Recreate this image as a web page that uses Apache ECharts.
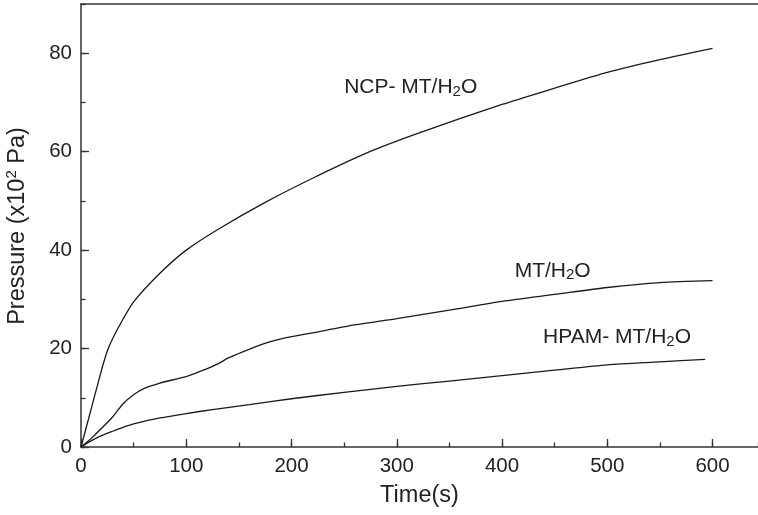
<!DOCTYPE html>
<html><head><meta charset="utf-8">
<script src="https://cdn.jsdelivr.net/npm/echarts@6/dist/echarts.min.js"></script>
<style>html,body{margin:0;padding:0;background:#fff}#c{width:758px;height:515px}</style>
</head><body><div id="c"></div>
<script>
// ---- data ----
const ncpTime = [0,10,20,25,30,40,50,75,100,130,175,220,270,320,400,450,500,550,600];
const ncpPressure = [0,8,16,19.5,22,26,29.5,35.3,40,44.2,49.7,54.6,59.6,63.7,69.6,72.9,76.1,78.7,81];
const mtTime = [0,10,20,30,40,50,60,75,100,115,130,140,150,165,180,195,220,260,300,350,400,450,500,550,600];
const mtPressure = [0,1.8,3.9,6.1,8.8,10.6,11.9,13.0,14.3,15.5,16.9,18.1,19.0,20.3,21.4,22.2,23.2,24.8,26.1,27.8,29.6,31.0,32.4,33.4,33.8];
const hpamTime = [0,10,20,30,40,50,75,100,125,160,200,250,300,350,400,450,500,550,593];
const hpamPressure = [0,1.3,2.35,3.2,4.0,4.7,5.9,6.8,7.6,8.6,9.8,11.1,12.3,13.4,14.5,15.6,16.7,17.3,17.8];
const xTicks = [0,100,200,300,400,500,600];
const yTicks = [0,20,40,60,80];
const labelNCP = ['NCP- MT/H','2','O'];
const labelMT = ['MT/H','2','O'];
const labelHPAM = ['HPAM- MT/H','2','O'];
const labelNCPAt = [250,73];
const labelMTAt = [412,35.8];
const labelHPAMAt = [439,22.3];

const FONT = '"Liberation Sans", Arial, Helvetica, sans-serif';
const INK = '#222';
const AX = '#333';

function pairs(xs, ys){ return xs.map((x,i)=>[x, ys[i]]); }
function subRich(){
  return {
    a:{fontFamily:FONT,fontSize:21,color:INK,lineHeight:24},
    s:{fontFamily:FONT,fontSize:15,color:INK,lineHeight:8,verticalAlign:'bottom'}
  };
}
function mark(parts, at){
  return {
    symbol:'circle', symbolSize:0, silent:true, animation:false,
    data:[{coord:at, value:0}],
    label:{show:true, position:'right', distance:0,
      formatter:'{a|'+parts[0]+'}{s|'+parts[1]+'}{a|'+parts[2]+'}',
      rich:subRich()}
  };
}
const XMAX = 643.2, YMAX = 90;
const chart = echarts.init(document.getElementById('c'), null, {renderer:'canvas'});
const lineStyle = {color:'#1a1a1a', width:1.3};
chart.setOption({
  animation:false,
  backgroundColor:'#fff',
  grid:{left:81, right:0, top:4, bottom:68, show:false},
  xAxis:[
    {type:'value', position:'bottom', min:0, max:XMAX, interval:100,
     name:'Time(s)', nameLocation:'middle', nameGap:37,
     nameTextStyle:{fontFamily:FONT, fontSize:23.5, color:INK},
     axisLine:{show:true, lineStyle:{color:AX, width:1.5}},
     axisTick:{show:true, inside:true, length:8, lineStyle:{color:AX, width:1.3}},
     axisLabel:{show:true, margin:9, fontFamily:FONT, fontSize:20.5, color:INK, showMaxLabel:false,
       formatter:v=>xTicks.includes(v)?String(v):''},
     splitLine:{show:false}},
    {type:'value', position:'bottom', min:0, max:XMAX, interval:50,
     axisLine:{show:false}, axisLabel:{show:false}, splitLine:{show:false},
     axisTick:{show:true, inside:true, length:4.5, lineStyle:{color:AX, width:1.3}}},
    {type:'value', position:'top', min:0, max:XMAX, interval:100,
     axisLine:{show:true, lineStyle:{color:AX, width:1.5}},
     axisTick:{show:false}, axisLabel:{show:false}, splitLine:{show:false}}
  ],
  yAxis:[
    {type:'value', position:'left', min:0, max:YMAX, interval:20,
     axisLine:{show:true, lineStyle:{color:AX, width:1.5}},
     axisTick:{show:true, inside:true, length:8, lineStyle:{color:AX, width:1.3}},
     axisLabel:{show:true, margin:9, fontFamily:FONT, fontSize:20.5, color:INK, showMaxLabel:false,
       formatter:v=>yTicks.includes(v)?String(v):''},
     splitLine:{show:false}},
    {type:'value', position:'left', min:0, max:YMAX, interval:10,
     axisLine:{show:false}, axisLabel:{show:false}, splitLine:{show:false},
     axisTick:{show:true, inside:true, length:4.5, lineStyle:{color:AX, width:1.3}}}
  ],
  graphic:[{
    type:'text', x:18, y:226, rotation:Math.PI/2,
    style:{
      text:'{a|Pressure (x10}{p|2}{a| Pa)}',
      align:'center', verticalAlign:'middle',
      rich:{
        a:{fontFamily:FONT,fontSize:23.5,fill:INK,lineHeight:28},
        p:{fontFamily:FONT,fontSize:15,fill:INK,lineHeight:18,verticalAlign:'top'}
      }
    }
  }],
  series:[
    {type:'line', name:'NCP', data:pairs(ncpTime,ncpPressure), smooth:0.25, showSymbol:false,
     lineStyle, xAxisIndex:0, yAxisIndex:0, markPoint:mark(labelNCP,labelNCPAt)},
    {type:'line', name:'MT', data:pairs(mtTime,mtPressure), smooth:0.25, showSymbol:false,
     lineStyle, xAxisIndex:0, yAxisIndex:0, markPoint:mark(labelMT,labelMTAt)},
    {type:'line', name:'HPAM', data:pairs(hpamTime,hpamPressure), smooth:0.25, showSymbol:false,
     lineStyle, xAxisIndex:0, yAxisIndex:0, markPoint:mark(labelHPAM,labelHPAMAt)}
  ]
});
</script></body></html>
